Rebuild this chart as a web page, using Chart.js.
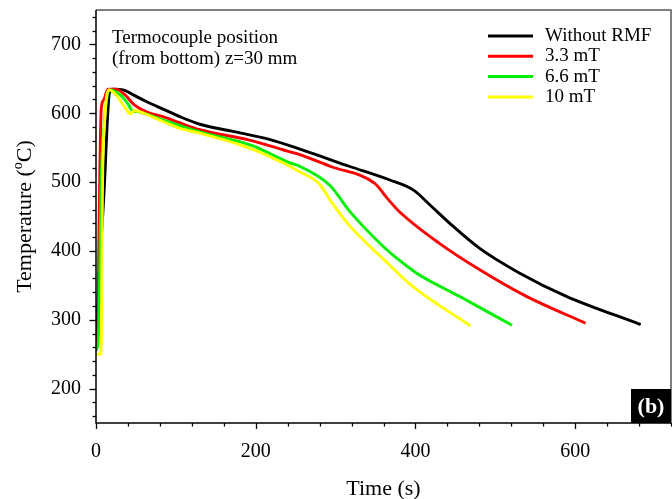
<!DOCTYPE html>
<html>
<head>
<meta charset="utf-8">
<script src="https://cdn.jsdelivr.net/npm/chart.js@4.4.1/dist/chart.umd.min.js"></script>
<style>
  html, body { margin: 0; padding: 0; background: #fff; }
</style>
</head>
<body>
<canvas id="chart" width="672" height="499"></canvas>
<script>
// series names and colours
const seriesLabels = ['Without RMF', '3.3 mT', '6.6 mT', '10 mT'];
const seriesColors = ['#000000', '#ff0000', '#00ee00', '#ffff00'];

// Without RMF
const timeNoRmf = [0, 2.5, 10, 17, 22, 34, 46, 63, 84, 105, 130, 170, 217, 260, 317, 368, 398, 418, 443, 480, 530, 589, 682];
const tempNoRmf = [255, 329, 484, 630, 635, 634, 627, 617, 606, 595, 584, 574, 562, 546, 523, 503, 488, 467, 440, 404, 368, 334, 293];

// 3.3 mT
const time33 = [0, 2, 4, 6.5, 9.5, 15, 25, 36, 48, 63, 84, 105, 130, 192, 234, 255, 293, 349, 365, 380, 430, 480, 539, 613];
const temp33 = [262, 275, 450, 605, 619, 635, 635, 627, 612, 602, 595, 586, 576, 561, 547, 540, 523, 498, 476, 457, 411, 373, 334, 295];

// 6.6 mT
const time66 = [0, 2, 4, 6, 10, 14, 18, 30, 38, 42, 45, 53, 84, 105, 130, 193, 243, 255, 293, 318, 360, 376, 401, 455, 521];
const temp66 = [257, 262, 320, 480, 580, 625, 634, 627, 617, 610, 604, 602, 590, 582, 573, 554, 528, 523, 495, 457, 406, 390, 368, 334, 292];

// 10 mT
const time10 = [0, 6, 7, 8, 11, 16, 25, 34, 41, 43, 48, 55, 84, 105, 130, 193, 234, 255, 280, 293, 305, 318, 347, 358, 397, 469];
const temp10 = [250, 250, 300, 480, 590, 634, 627, 612, 601, 599, 604, 602, 588, 578, 571, 549, 528, 515, 497, 474, 455, 436, 402, 390, 348, 291];

// axis ticks
const xMajorTicks = [0, 200, 400, 600];
const yMajorTicks = [200, 300, 400, 500, 600, 700];
const xRange = [0, 720], xMinorStep = 40;
const yRange = [150, 750], yMinorStep = 20;

const serif = '"Liberation Serif", "Times New Roman", serif';

function pairs(ts, vs) {
  return ts.map((t, i) => ({ x: t, y: vs[i] }));
}

function stepTicks(from, to, step) {
  const out = [];
  for (let v = Math.ceil(from / step) * step; v <= to; v += step) out.push({ value: v });
  return out;
}

function noPad(s) {
  s.paddingTop = 0; s.paddingBottom = 0; s.paddingLeft = 0; s.paddingRight = 0;
}

const allSeries = [[timeNoRmf, tempNoRmf], [time33, temp33], [time66, temp66], [time10, temp10]];

const datasets = allSeries.map((s, i) => ({
  label: seriesLabels[i],
  data: pairs(s[0], s[1]),
  borderColor: seriesColors[i],
  borderWidth: 2.9,
  pointRadius: 0,
  fill: false,
  cubicInterpolationMode: 'monotone',
  order: allSeries.length - i
}));

const decor = {
  id: 'decor',
  afterDraw(chart) {
    const { ctx, chartArea: a, scales: { x, y } } = chart;
    ctx.save();

    // tick marks
    ctx.strokeStyle = '#000';
    ctx.lineWidth = 1.3;
    x.ticks.forEach(t => {
      const px = Math.round(x.getPixelForValue(t.value)) + 0.5;
      const len = xMajorTicks.includes(t.value) ? 6 : 3.5;
      ctx.beginPath(); ctx.moveTo(px, a.bottom); ctx.lineTo(px, a.bottom + len); ctx.stroke();
    });
    y.ticks.forEach(t => {
      const py = Math.round(y.getPixelForValue(t.value)) + 0.5;
      const len = yMajorTicks.includes(t.value) ? 6.5 : 3.5;
      ctx.beginPath(); ctx.moveTo(a.left, py); ctx.lineTo(a.left - len, py); ctx.stroke();
    });

    // frame
    ctx.lineWidth = 1.5;
    ctx.strokeStyle = '#555';
    ctx.beginPath();
    ctx.moveTo(a.left, a.top); ctx.lineTo(a.right, a.top); ctx.lineTo(a.right, a.bottom);
    ctx.stroke();
    ctx.strokeStyle = '#000';
    ctx.beginPath();
    ctx.moveTo(a.left, a.top); ctx.lineTo(a.left, a.bottom); ctx.lineTo(a.right, a.bottom);
    ctx.stroke();

    ctx.fillStyle = '#000';

    // axis titles
    ctx.font = '22px ' + serif;
    ctx.textAlign = 'center';
    ctx.textBaseline = 'alphabetic';
    ctx.fillText('Time (s)', (a.left + a.right) / 2, 495);

    ctx.save();
    ctx.translate(31, (a.top + a.bottom) / 2);
    ctx.rotate(-Math.PI / 2);
    ctx.textAlign = 'left';
    const part1 = 'Temperature (', sup = 'o', part2 = 'C)';
    ctx.font = '22px ' + serif;
    const w1 = ctx.measureText(part1).width, w3 = ctx.measureText(part2).width;
    ctx.font = '14px ' + serif;
    const w2 = ctx.measureText(sup).width;
    let cx = -(w1 + w2 + w3) / 2;
    ctx.font = '22px ' + serif;
    ctx.fillText(part1, cx, 0); cx += w1;
    ctx.font = '14px ' + serif;
    ctx.fillText(sup, cx, -9); cx += w2;
    ctx.font = '22px ' + serif;
    ctx.fillText(part2, cx, 0);
    ctx.restore();

    // note
    ctx.font = '19px ' + serif;
    ctx.textAlign = 'left';
    ctx.fillText('Termocouple position', 112, 43);
    ctx.fillText('(from bottom) z=30 mm', 112, 64);

    // legend
    ctx.textBaseline = 'middle';
    ctx.font = '19px ' + serif;
    chart.data.datasets.forEach((d, i) => {
      const ly = 36 + i * 20.3;
      ctx.strokeStyle = d.borderColor;
      ctx.lineWidth = 3;
      ctx.beginPath(); ctx.moveTo(488, ly); ctx.lineTo(533, ly); ctx.stroke();
      ctx.fillStyle = '#000';
      ctx.fillText(d.label, 545, ly);
    });

    // panel label
    ctx.fillStyle = '#000';
    ctx.fillRect(a.right - 40, a.bottom - 34, 40, 34);
    ctx.fillStyle = '#fff';
    ctx.font = 'bold 22px ' + serif;
    ctx.textAlign = 'center';
    ctx.fillText('(b)', a.right - 20, a.bottom - 16);

    ctx.restore();
  }
};

new Chart(document.getElementById('chart'), {
  type: 'line',
  data: { datasets },
  options: {
    responsive: false,
    animation: false,
    devicePixelRatio: 1,
    layout: { padding: { top: 10, right: 1, left: 0, bottom: 0 } },
    plugins: { legend: { display: false }, tooltip: { enabled: false } },
    scales: {
      x: {
        type: 'linear',
        min: xRange[0], max: xRange[1],
        afterBuildTicks: s => { s.ticks = stepTicks(xRange[0], xRange[1], xMinorStep); },
        afterFit: s => { s.height = 76; noPad(s); },
        grid: { display: false, drawTicks: false },
        border: { display: false },
        ticks: {
          autoSkip: false, maxRotation: 0, padding: 17, color: '#000',
          font: { family: serif, size: 20 },
          callback: v => xMajorTicks.includes(v) ? String(v) : ''
        }
      },
      y: {
        type: 'linear',
        min: yRange[0], max: yRange[1],
        afterBuildTicks: s => { s.ticks = stepTicks(yRange[0], yRange[1], yMinorStep); },
        afterFit: s => { s.width = 96; noPad(s); },
        grid: { display: false, drawTicks: false },
        border: { display: false },
        ticks: {
          autoSkip: false, padding: 15, color: '#000',
          font: { family: serif, size: 20 },
          callback: v => yMajorTicks.includes(v) ? String(v) : ''
        }
      }
    }
  },
  plugins: [decor]
});
</script>
</body>
</html>
